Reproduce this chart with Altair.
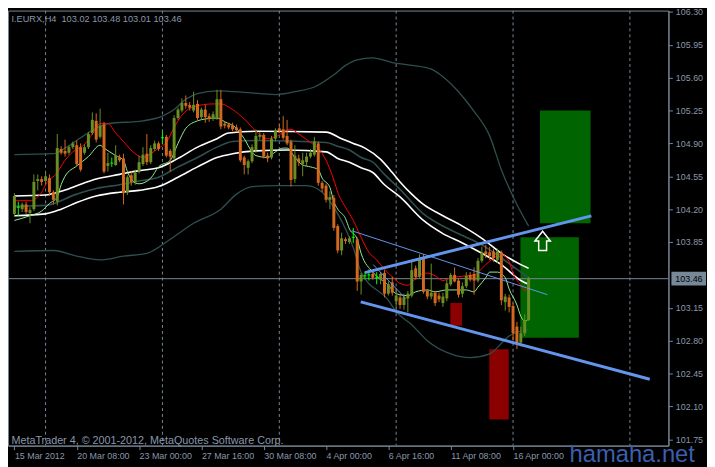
import altair as alt
import numpy as np
import pandas as pd

W, H = 668, 440

# ---------------- axis / grid data ----------------
tick_idx = [0, 16, 32, 48, 64, 80, 96, 112, 128]
tick_labels = ["15 Mar 2012", "20 Mar 08:00", "23 Mar 00:00", "27 Mar 16:00", "30 Mar 08:00",
               "4 Apr 00:00", "6 Apr 16:00", "11 Apr 08:00", "16 Apr 00:00"]
price_ticks = [101.75, 102.10, 102.45, 102.80, 103.15, 103.85, 104.20, 104.55,
               104.90, 105.25, 105.60, 105.95, 106.30]
grid_idx = [8, 38, 68, 98, 128, 158]
last_price = 103.46

# ---------------- OHLC (H4 bars) ----------------
bar_open = [
    104.15, 104.22, 104.20, 104.25, 104.16, 104.20, 104.50, 104.52, 104.50, 104.53,
    104.38, 104.28, 104.84, 104.82, 104.80, 104.86, 104.88, 104.86, 104.80, 104.86,
    105.01, 105.14, 104.97, 105.10, 104.66, 104.69, 104.67, 104.75, 104.74, 104.38,
    104.56, 104.49, 104.60, 104.68, 104.79, 104.70, 104.84, 104.90, 104.96, 104.97,
    104.82, 104.74, 105.17, 105.25, 105.33, 105.31, 105.25, 105.32, 105.18, 105.26,
    105.19, 105.16, 105.17, 105.37, 105.11, 105.10, 105.09, 105.07, 105.05, 104.75,
    104.64, 104.71, 104.83, 104.97, 104.99, 104.77, 104.75, 104.95, 105.06, 105.05,
    104.98, 104.92, 104.52, 104.74, 104.68, 104.70, 104.76, 104.78, 104.90, 104.48,
    104.45, 104.30, 104.32, 104.02, 103.76, 103.88, 103.85, 103.90, 103.88, 103.43,
    103.49, 103.50, 103.51, 103.47, 103.45, 103.52, 103.30, 103.42, 103.22, 103.26,
    103.18, 103.25, 103.28, 103.57, 103.48, 103.68, 103.33, 103.27, 103.31, 103.28,
    103.20, 103.25, 103.40, 103.50, 103.44, 103.30, 103.38, 103.50, 103.51, 103.44,
    103.65, 103.75, 103.74, 103.75, 103.66, 103.74, 103.21, 103.26, 103.17, 102.95,
    102.78, 102.88, 103.02]
bar_high = [
    104.37, 104.28, 104.27, 104.28, 104.22, 104.57, 104.57, 104.55, 104.60, 104.57,
    104.40, 105.00, 104.87, 104.94, 104.88, 104.92, 104.93, 104.90, 104.89, 105.02,
    105.23, 105.22, 105.27, 105.13, 104.80, 104.75, 104.88, 104.78, 104.79, 104.56,
    104.60, 104.62, 104.77, 104.86, 105.00, 104.88, 104.93, 104.92, 105.03, 104.99,
    104.84, 105.20, 105.28, 105.38, 105.41, 105.34, 105.45, 105.36, 105.28, 105.31,
    105.22, 105.24, 105.47, 105.47, 105.13, 105.12, 105.12, 105.10, 105.07, 104.77,
    104.73, 104.89, 105.05, 105.02, 105.01, 104.80, 104.98, 105.06, 105.10, 105.19,
    105.15, 104.94, 104.88, 104.78, 104.80, 104.80, 104.84, 104.97, 104.92, 104.50,
    104.47, 104.39, 104.35, 104.04, 103.95, 103.90, 103.91, 104.00, 103.90, 103.52,
    103.53, 103.56, 103.54, 103.53, 103.53, 103.55, 103.43, 103.48, 103.36, 103.29,
    103.30, 103.33, 103.65, 103.60, 103.72, 103.72, 103.35, 103.62, 103.33, 103.31,
    103.31, 103.45, 103.52, 103.58, 103.46, 103.42, 103.53, 103.53, 103.58, 103.68,
    103.80, 103.82, 103.80, 103.78, 103.78, 103.76, 103.30, 103.29, 103.20, 103.00,
    102.95, 103.08, 103.48]
bar_low = [
    104.12, 104.13, 104.17, 104.15, 104.05, 104.18, 104.40, 104.45, 104.47, 104.34,
    104.25, 104.24, 104.78, 104.76, 104.78, 104.84, 104.66, 104.60, 104.78, 104.84,
    104.99, 104.91, 104.95, 104.58, 104.60, 104.65, 104.66, 104.70, 104.25, 104.35,
    104.45, 104.46, 104.58, 104.66, 104.67, 104.68, 104.82, 104.82, 104.89, 104.75,
    104.60, 104.72, 105.15, 105.23, 105.27, 105.25, 105.23, 105.15, 105.15, 105.12,
    105.13, 105.14, 105.15, 105.05, 105.06, 105.05, 105.03, 105.02, 104.70, 104.57,
    104.57, 104.69, 104.80, 104.94, 104.74, 104.70, 104.73, 104.92, 105.01, 104.94,
    104.88, 104.44, 104.48, 104.66, 104.55, 104.66, 104.74, 104.76, 104.45, 104.38,
    104.27, 104.20, 103.97, 103.73, 103.71, 103.83, 103.83, 103.84, 103.33, 103.29,
    103.45, 103.44, 103.45, 103.40, 103.40, 103.26, 103.28, 103.28, 103.15, 103.14,
    103.13, 103.10, 103.26, 103.45, 103.46, 103.30, 103.24, 103.24, 103.17, 103.21,
    103.16, 103.22, 103.38, 103.42, 103.26, 103.26, 103.36, 103.43, 103.29, 103.42,
    103.63, 103.68, 103.66, 103.64, 103.63, 103.18, 103.12, 103.10, 102.80, 102.71,
    102.74, 102.85, 103.01]
bar_close = [
    104.34, 104.22, 104.25, 104.17, 104.19, 104.49, 104.52, 104.49, 104.55, 104.38,
    104.30, 104.85, 104.80, 104.79, 104.86, 104.90, 104.68, 104.62, 104.86, 105.00,
    105.15, 104.94, 105.09, 104.60, 104.69, 104.69, 104.77, 104.72, 104.37, 104.54,
    104.49, 104.59, 104.70, 104.78, 104.70, 104.85, 104.90, 104.84, 104.96, 104.77,
    104.76, 105.17, 105.26, 105.33, 105.30, 105.28, 105.31, 105.17, 105.26, 105.18,
    105.16, 105.21, 105.37, 105.08, 105.09, 105.07, 105.05, 105.04, 104.72, 104.67,
    104.71, 104.86, 104.98, 104.99, 104.76, 104.74, 104.95, 105.04, 105.03, 104.96,
    104.90, 104.51, 104.77, 104.70, 104.72, 104.76, 104.80, 104.92, 104.48, 104.42,
    104.30, 104.33, 104.00, 103.76, 103.89, 103.86, 103.89, 103.90, 103.43, 103.50,
    103.49, 103.50, 103.47, 103.47, 103.51, 103.30, 103.40, 103.31, 103.28, 103.18,
    103.26, 103.30, 103.55, 103.48, 103.68, 103.32, 103.27, 103.31, 103.20, 103.24,
    103.27, 103.41, 103.50, 103.43, 103.29, 103.38, 103.49, 103.45, 103.44, 103.65,
    103.74, 103.72, 103.70, 103.68, 103.75, 103.23, 103.27, 103.16, 102.88, 102.77,
    102.88, 103.02, 103.46]

# ---------------- indicator lines (sampled at bar index) ----------------
red_i = [0, 4, 7, 8, 11, 13, 15, 18, 20, 22, 24, 26, 28, 31, 33, 35, 37, 39, 41, 43,
         46, 51, 53, 56, 59, 62, 65, 67, 71, 73, 76, 78, 80, 82, 83, 85, 87, 89, 91, 93,
         95, 97, 99, 101, 102, 104, 106, 108, 110, 112, 116, 118, 121, 123, 125, 127, 128, 130, 131, 132]
red_v = [104.29, 104.29, 104.38, 104.46, 104.59, 104.72, 104.81, 104.89, 105.00, 105.11,
         105.11, 105.01, 104.92, 104.79, 104.75, 104.79, 104.85, 104.91, 105.07, 105.20,
         105.29, 105.32, 105.32, 105.26, 105.16, 105.03, 104.95, 104.97, 105.05, 105.00,
         104.91, 104.85, 104.72, 104.51, 104.38, 104.22, 104.08, 103.90, 103.74, 103.66,
         103.56, 103.48, 103.41, 103.39, 103.42, 103.50, 103.52, 103.49, 103.44, 103.47,
         103.49, 103.50, 103.61, 103.68, 103.72, 103.64, 103.52, 103.39, 103.34, 103.35]

lg_i = [0, 4, 7, 9, 11, 12, 13, 16, 19, 22, 23, 26, 28, 29, 31, 32, 35, 37, 40, 42,
        44, 47, 49, 52, 54, 57, 59, 61, 62, 65, 67, 69, 70, 72, 74, 76, 78, 79, 81, 82,
        83, 85, 86, 88, 89, 92, 96, 98, 101, 103, 106, 108, 111, 116, 118, 119, 121, 122, 124, 126,
        127, 129, 130, 131, 132]
lg_v = [104.08, 104.13, 104.18, 104.26, 104.33, 104.46, 104.55, 104.66, 104.76, 104.88,
        104.85, 104.77, 104.72, 104.60, 104.48, 104.47, 104.53, 104.65, 104.72, 104.90,
        105.06, 105.14, 105.16, 105.17, 105.13, 105.06, 104.95, 104.81, 104.77, 104.75,
        104.81, 104.85, 104.85, 104.75, 104.67, 104.65, 104.62, 104.53, 104.43, 104.28,
        104.20, 104.10, 103.99, 103.88, 103.73, 103.53, 103.39, 103.30, 103.28, 103.32,
        103.34, 103.32, 103.34, 103.34, 103.32, 103.37, 103.47, 103.53, 103.53, 103.47,
        103.35, 103.18, 103.06, 103.01, 103.03]

wu_i = [0, 8, 12, 16, 21, 27, 32, 37, 42, 47, 52, 55, 62, 80, 84, 87, 90, 94, 97, 99,
        102, 105, 110, 115, 120, 125, 130, 132]
wu_v = [104.34, 104.35, 104.39, 104.45, 104.52, 104.57, 104.61, 104.64, 104.74, 104.86,
        104.95, 105.01, 105.03, 105.02, 104.95, 104.90, 104.85, 104.73, 104.59, 104.49,
        104.36, 104.25, 104.13, 104.02, 103.89, 103.73, 103.61, 103.57]

md_i = [0, 8, 16, 21, 27, 32, 37, 42, 47, 52, 56, 62, 80, 83, 86, 89, 92, 95, 99, 105,
        110, 115, 120, 125, 130, 132]
md_v = [104.23, 104.24, 104.36, 104.42, 104.46, 104.50, 104.54, 104.65, 104.75, 104.86,
        104.92, 104.93, 104.91, 104.87, 104.83, 104.75, 104.70, 104.57, 104.41, 104.15,
        104.02, 103.92, 103.82, 103.68, 103.53, 103.47]

wl_i = [0, 8, 12, 16, 21, 27, 32, 37, 42, 47, 52, 56, 62, 70, 80, 83, 86, 89, 92, 95,
        99, 105, 110, 115, 120, 125, 130, 132]
wl_v = [104.13, 104.15, 104.20, 104.27, 104.34, 104.38, 104.40, 104.44, 104.54, 104.65,
        104.75, 104.79, 104.82, 104.83, 104.81, 104.74, 104.70, 104.64, 104.59, 104.46,
        104.33, 104.08, 103.94, 103.84, 103.73, 103.61, 103.44, 103.40]

bu_i = [0, 10, 13, 17, 20, 24, 33, 38, 41, 44, 47, 52, 60, 67, 72, 77, 82, 85, 88, 92,
        97, 102, 107, 110, 114, 118, 122, 125, 129, 132]
bu_v = [104.78, 104.79, 104.85, 104.96, 105.04, 105.11, 105.14, 105.19, 105.26, 105.37,
        105.43, 105.46, 105.44, 105.42, 105.45, 105.50, 105.63, 105.73, 105.79, 105.81,
        105.76, 105.73, 105.69, 105.61, 105.45, 105.24, 104.98, 104.62, 104.25, 104.02]

bl_i = [0, 10, 16, 22, 28, 34, 40, 46, 53, 57, 61, 67, 75, 79, 83, 87, 89, 96, 98, 102,
        106, 112, 117, 122, 127, 132]
bl_v = [103.75, 103.76, 103.70, 103.66, 103.70, 103.73, 103.88, 104.05, 104.20, 104.36,
        104.44, 104.45, 104.45, 104.38, 104.15, 103.79, 103.53, 103.23, 103.11, 102.97,
        102.80, 102.66, 102.62, 102.66, 102.85, 102.92]

# ---------------- objects ----------------
# trend lines: start (bar, price) -> end (bar, price), width
tl_x1 = [89.95, 88.9, 86.6, 92.1]
tl_y1 = [103.525, 103.213, 103.97, 103.61]
tl_x2 = [148.1, 163.1, 136.8, 100.4]
tl_y2 = [104.128, 102.390, 103.29, 103.25]
tl_w = [3, 3, 1, 1]

rc_x1 = [134.9, 129.9, 111.9, 121.9]
rc_x2 = [147.9, 144.9, 114.9, 126.9]
rc_y1 = [105.25, 103.90, 103.20, 102.71]
rc_y2 = [104.05, 102.83, 102.96, 101.96]
rc_col = ["#006400", "#006400", "#8B0000", "#8B0000"]

arrow_i = [135.6]
arrow_p = [103.86]

title_text = "I.EURX,H4\u00a0 103.02 103.48 103.01 103.46"
copy_text = "MetaTrader 4, \u00a9 2001-2012, MetaQuotes Software Corp."
mark_text_wm = "hamaha.net"

FG = "#8a97ab"
AX = "#778899"
FONT = "Liberation Sans"

# ---------------- scales / encodings ----------------
xs = alt.Scale(domain=[-0.375, 166.625], nice=False, zero=False)
ys = alt.Scale(domain=[101.683, 106.3135], nice=False, zero=False)

expr = "''"
for v, lab in reversed(list(zip(tick_idx, tick_labels))):
    expr = f"datum.value == {v} ? '{lab}' : " + expr

xaxis = alt.Axis(values=tick_idx, labelExpr=expr, labelAlign="left", labelPadding=2,
                 tickSize=4, title=None, grid=False, labelFlush=False, labelOverlap=False)
yaxis = alt.Axis(orient="right", values=price_ticks, format=".2f", tickSize=4, labelPadding=3,
                 title=None, grid=False, labelFlush=False, labelOverlap=False)


def X(f):
    return alt.X(f, type="quantitative", scale=xs, axis=xaxis)


def Y(f):
    return alt.Y(f, type="quantitative", scale=ys, axis=yaxis)


layers = []

# rectangles (background objects)
rdf = pd.DataFrame({"x1": rc_x1, "x2": rc_x2, "y1": rc_y1, "y2": rc_y2, "c": rc_col})
layers.append(alt.Chart(rdf).mark_rect(clip=True).encode(
    x=X("x1"), x2="x2", y=Y("y1"), y2="y2", color=alt.Color("c:N", scale=None)))

# vertical dotted grid
gdf = pd.DataFrame({"g": grid_idx})
layers.append(alt.Chart(gdf).mark_rule(color=AX, strokeWidth=1, strokeDash=[3, 3], clip=True).encode(
    x=X("g")))

# bid line
pdf = pd.DataFrame({"p": [last_price], "t": [f"{last_price:.2f}"]})
layers.append(alt.Chart(pdf).mark_rule(color=AX, strokeWidth=1).encode(y=Y("p")))


def line_layer(idx, vals, color, width):
    d = pd.DataFrame({"i": idx, "v": vals})
    return alt.Chart(d).mark_line(color=color, strokeWidth=width, clip=True,
                                  interpolate="monotone").encode(x=X("i"), y=Y("v"))


layers.append(line_layer(bu_i, bu_v, "#2F4F4F", 1.3))
layers.append(line_layer(bl_i, bl_v, "#2F4F4F", 1.3))
layers.append(line_layer(md_i, md_v, "#2F4F4F", 1.6))
layers.append(line_layer(wu_i, wu_v, "#FFFFFF", 1.6))
layers.append(line_layer(wl_i, wl_v, "#FFFFFF", 1.6))
layers.append(line_layer(lg_i, lg_v, "#90EE90", 1))
layers.append(line_layer(red_i, red_v, "#FF0000", 1))

# candles
cdf = pd.DataFrame({"i": np.arange(len(bar_open)), "o": bar_open, "h": bar_high,
                    "l": bar_low, "c": bar_close})
cdf["kind"] = np.where(cdf.c > cdf.o, "up", np.where(cdf.c < cdf.o, "down", "doji"))
cdf["top"] = cdf[["o", "c"]].max(axis=1)
cdf["bot"] = cdf[["o", "c"]].min(axis=1)
cdf["dl"] = cdf["i"] - 0.4
cdf["dr"] = cdf["i"] + 0.4
ccol = alt.Color("kind:N", scale=alt.Scale(domain=["up", "down", "doji"],
                                           range=["#6B8E23", "#D2691E", "#00FF00"]), legend=None)
layers.append(alt.Chart(cdf).mark_rule(strokeWidth=1).encode(x=X("i"), y=Y("l"), y2="h", color=ccol))
layers.append(alt.Chart(cdf).mark_bar(size=3).encode(x=X("i"), y=Y("bot"), y2="top", color=ccol))
layers.append(alt.Chart(cdf[cdf.kind == "doji"]).mark_rule(strokeWidth=1, color="#00FF00").encode(
    x=X("dl"), x2="dr", y=Y("c")))

# trend lines
tdf = pd.DataFrame({"x1": tl_x1, "y1": tl_y1, "x2": tl_x2, "y2": tl_y2, "w": tl_w})
layers.append(alt.Chart(tdf).mark_rule(color="#6495ED", clip=True).encode(
    x=X("x1"), y=Y("y1"), x2="x2", y2="y2", strokeWidth=alt.StrokeWidth("w:Q", scale=None)))

# arrow
adf = pd.DataFrame({"i": arrow_i, "p": arrow_p})
layers.append(alt.Chart(adf).mark_point(
    shape="M0,-1L0.78,0L0.4,0L0.4,0.95L-0.4,0.95L-0.4,0L-0.78,0Z",
    size=400, filled=False, stroke="#FFFFFF", strokeWidth=1.5, opacity=1).encode(x=X("i"), y=Y("p")))

# current price label box at right
layers.append(alt.Chart(pdf).mark_point(
    shape="M-1,-0.4L1,-0.4L1,0.4L-1,0.4Z", size=1225, filled=True, fill=AX,
    strokeWidth=0, opacity=1).encode(x=alt.value(W + 20.5), y=Y("p")))
layers.append(alt.Chart(pdf).mark_text(align="left", baseline="middle", font=FONT, fontSize=9,
                                       color="#000000").encode(
    x=alt.value(W + 7), y=Y("p"), text="t:N"))

# texts
tx = pd.DataFrame({"a": [title_text], "b": [copy_text], "w": [mark_text_wm]})
layers.append(alt.Chart(tx).mark_text(align="left", baseline="alphabetic", font=FONT, fontSize=9.3,
                                      color=FG).encode(x=alt.value(3.5), y=alt.value(12), text="a:N"))
layers.append(alt.Chart(tx).mark_text(align="left", baseline="alphabetic", font=FONT, fontSize=10.9,
                                      color=FG).encode(x=alt.value(3.5), y=alt.value(H - 2), text="b:N"))
layers.append(alt.Chart(tx).mark_text(align="left", baseline="alphabetic", font=FONT, fontSize=24,
                                      color="#3b5fae").encode(x=alt.value(568), y=alt.value(H + 17), text="w:N"))

chart = alt.layer(*layers).properties(
    width=W, height=H,
    autosize=alt.AutoSizeParams(type="none"),
    padding={"left": 0, "top": 0, "right": 39, "bottom": 19},
    background="#000000",
).configure_view(stroke=AX, strokeWidth=1).configure_axis(
    labelColor=FG, labelFont=FONT, labelFontSize=9, tickColor=AX, domainColor=AX
)

chart.save("out.html", embed_options={"renderer": "svg", "actions": False})
